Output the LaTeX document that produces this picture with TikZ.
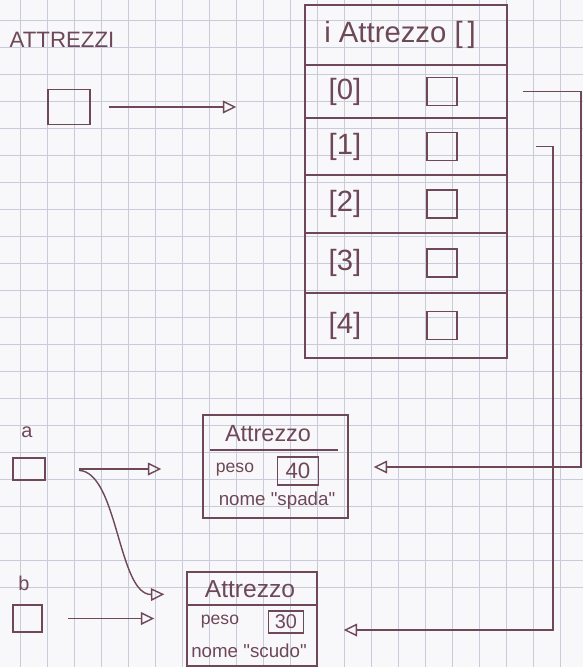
\documentclass[tikz,border=0pt]{standalone}
\usepackage{fontspec}
\setmainfont{Liberation Sans}
\usepackage{xcolor}
\usetikzlibrary{arrows.meta,calc,positioning}

\definecolor{ink}{RGB}{110,72,88}
\definecolor{gridc}{RGB}{202,203,218}
\definecolor{paper}{RGB}{248,248,250}

\tikzset{
  pen/.style={draw=ink,line width=1.2pt},
  ptr/.style={ink,line width=1.2pt,-{Triangle[open,length=4mm,width=3.8mm]}},
  cell/.style={pen,minimum width=6.06cm,inner sep=0pt},
  slot/.style={pen,minimum width=0.9cm,minimum height=0.84cm,inner sep=0pt},
  hand/.style={text=ink,inner sep=0pt,font=\fontsize{#1}{#1}\selectfont},
  hand/.default=18,
}

\begin{document}
\begin{tikzpicture}[x=0.03cm,y=-0.03cm]
  \useasboundingbox[fill=paper] (0,0) rectangle (583,667);
  \clip (0,0) rectangle (583,667);
  % squared paper
  \foreach \g in {-7,20,...,590}{
    \draw[gridc,line width=0.5pt] (\g,0) -- (\g,667);
    \draw[gridc,line width=0.5pt] (0,\g) -- (583,\g);
  }

  % the variable attrezzi
  \node[hand=19] (latt) at (62,40) {ATTREZZI};
  \node[pen,minimum width=1.26cm,minimum height=1.05cm,inner sep=0pt] (att) at (69,107) {};

  % the array
  \node[cell,minimum height=1.8cm] (hdr) at (406,35) {};
  \node[hand=25] (lhdr) at (400,35) {i Attrezzo [\,]};
  \foreach \i/\cy/\h in {0/91.5/1.59,1/146.5/1.71,2/204/1.74,3/263/1.8,4/325.5/1.95}{
    \node[cell,minimum height=\h cm] (r\i) at (406,\cy) {};
    \node[hand=25] (l\i) at (345,\cy) {[\i]};
    \node[slot] (s\i) at (442,\cy) {};
  }

  % the two objects
  \node[pen,minimum width=4.35cm,minimum height=3.09cm,inner sep=0pt] (obj1) at (275.5,466.5) {};
  \node[hand=20] (t1) at (268,434) {Attrezzo};
  \draw[pen] (210,450) -- (338,450);
  \node[hand=15] (p1) at (235,470) {peso};
  \node[pen,minimum width=1.23cm,minimum height=0.84cm,inner sep=0pt,hand=19] (v1) at (298,471) {40};
  \node[hand=16] (n1) at (277,501) {nome \textquotedbl spada\textquotedbl};

  \node[pen,minimum width=3.9cm,minimum height=2.82cm,inner sep=0pt] (obj2) at (252,619) {};
  \node[hand=21] (t2) at (250,589) {Attrezzo};
  \draw[pen] (187,605) -- (317,605);
  \node[hand=15] (p2) at (220,622) {peso};
  \node[pen,minimum width=1.05cm,minimum height=0.66cm,inner sep=0pt,hand=17] (v2) at (286,622) {30};
  \node[hand=16] (n2) at (249,651) {nome \textquotedbl scudo\textquotedbl};

  % the variables a and b
  \node[hand=17] (la) at (27,432) {a};
  \node[pen,minimum width=0.96cm,minimum height=0.66cm,inner sep=0pt] (a) at (29,469) {};
  \node[hand=17] (lb) at (24,583) {b};
  \node[pen,minimum width=0.87cm,minimum height=0.81cm,inner sep=0pt] (b) at (27.5,618.5) {};

  \coordinate (e0) at (581,467);
  \coordinate (e1) at (553,630);

  % references
  \draw[ptr,shorten <=0.54cm,shorten >=2.04cm] (att.east) -- (att.east -| hdr.west);
  \draw[ptr,shorten <=0.45cm,shorten >=0.75cm] (r0.east) -| (e0) -- (e0 -| obj1.east);
  \draw[ptr,shorten <=0.84cm,shorten >=0.78cm] (r1.east) -| (e1) -- (e1 -| obj2.east);
  \draw[ptr,shorten <=1cm,shorten >=1.23cm] (a.east) -- (a.east -| obj1.west);
  \draw[ptr,shorten <=1cm] (a.east) .. controls (118,472) and (118,595) .. ([xshift=-0.66cm,yshift=-0.69cm]obj2.north west);
  \draw[ptr,shorten <=0.75cm,shorten >=0.96cm] (b.east) -- (b.east -| obj2.west);
\end{tikzpicture}
\end{document}
